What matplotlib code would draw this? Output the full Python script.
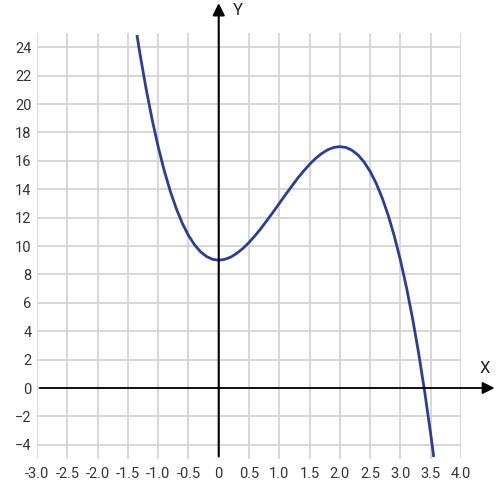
import matplotlib
matplotlib.use("Agg")
import matplotlib.pyplot as plt

plt.rcParams['font.family'] = ['Roboto', 'DejaVu Sans']

# points
curve_x = [-1.35, -1.3, -1.2, -1.1, -1.0, -0.9, -0.8, -0.7, -0.6, -0.5, -0.4, -0.3, -0.2, -0.1,
           0.0, 0.1, 0.2, 0.3, 0.4, 0.5, 0.6, 0.7, 0.8, 0.9, 1.0, 1.1, 1.2, 1.3, 1.4, 1.5,
           1.6, 1.7, 1.8, 1.9, 2.0, 2.1, 2.2, 2.3, 2.4, 2.5, 2.6, 2.7, 2.8, 2.9, 3.0,
           3.1, 3.2, 3.3, 3.4, 3.5, 3.55]
curve_y = [24.86, 23.53, 21.10, 18.92, 17.00, 15.32, 13.86, 12.63, 11.59, 10.75, 10.09, 9.59, 9.26, 9.06,
           9.00, 9.06, 9.22, 9.49, 9.83, 10.25, 10.73, 11.25, 11.82, 12.40, 13.00, 13.60, 14.18, 14.75, 15.27, 15.75,
           16.17, 16.51, 16.78, 16.94, 17.00, 16.94, 16.74, 16.41, 15.91, 15.25, 14.41, 13.37, 12.14, 10.68, 9.00,
           7.08, 4.90, 2.47, -0.25, -3.25, -4.86]

x_ticks = [-3.0, -2.5, -2.0, -1.5, -1.0, -0.5, 0.0, 0.5, 1.0, 1.5, 2.0, 2.5, 3.0, 3.5, 4.0]
x_labels = ['-3.0', '-2.5', '-2.0', '-1.5', '-1.0', '-0.5', '0', '0.5', '1.0', '1.5', '2.0', '2.5', '3.0', '3.5', '4.0']
y_ticks = [-4, -2, 0, 2, 4, 6, 8, 10, 12, 14, 16, 18, 20, 22, 24]

fig = plt.figure(figsize=(5, 5), dpi=100)
ax = fig.add_axes([37/500, 41/500, 424/500, 426/500])
ax.set_xlim(-3, 4)
ax.set_ylim(-5, 25)

for s in ax.spines.values():
    s.set_visible(False)

ax.set_xticks(x_ticks)
ax.set_xticklabels(x_labels)
ax.set_yticks(y_ticks)
ax.tick_params(length=0, labelsize=10.5, labelcolor='#333333', pad=6)
ax.tick_params(axis='y', pad=4)
ax.grid(True, color='#d4d4d4', linewidth=1.3)
ax.set_axisbelow(True)

# axes with arrows
ax.annotate('', xy=(4.6, 0), xytext=(-3, 0), annotation_clip=False,
            arrowprops=dict(arrowstyle='-|>', color='black', lw=1.3, mutation_scale=18))
ax.annotate('', xy=(0, 27.3), xytext=(0, -5), annotation_clip=False,
            arrowprops=dict(arrowstyle='-|>', color='black', lw=1.5, mutation_scale=18))
ax.text(4.39, 1.4, 'X', fontsize=12, ha='center', va='center', color='#222222')
ax.text(0.31, 26.6, 'Y', fontsize=12, ha='center', va='center', color='#222222', clip_on=False)

ax.plot(curve_x, curve_y, color='#2c3e94', linewidth=2, solid_capstyle='butt')

fig.savefig('out.png', dpi=100)
